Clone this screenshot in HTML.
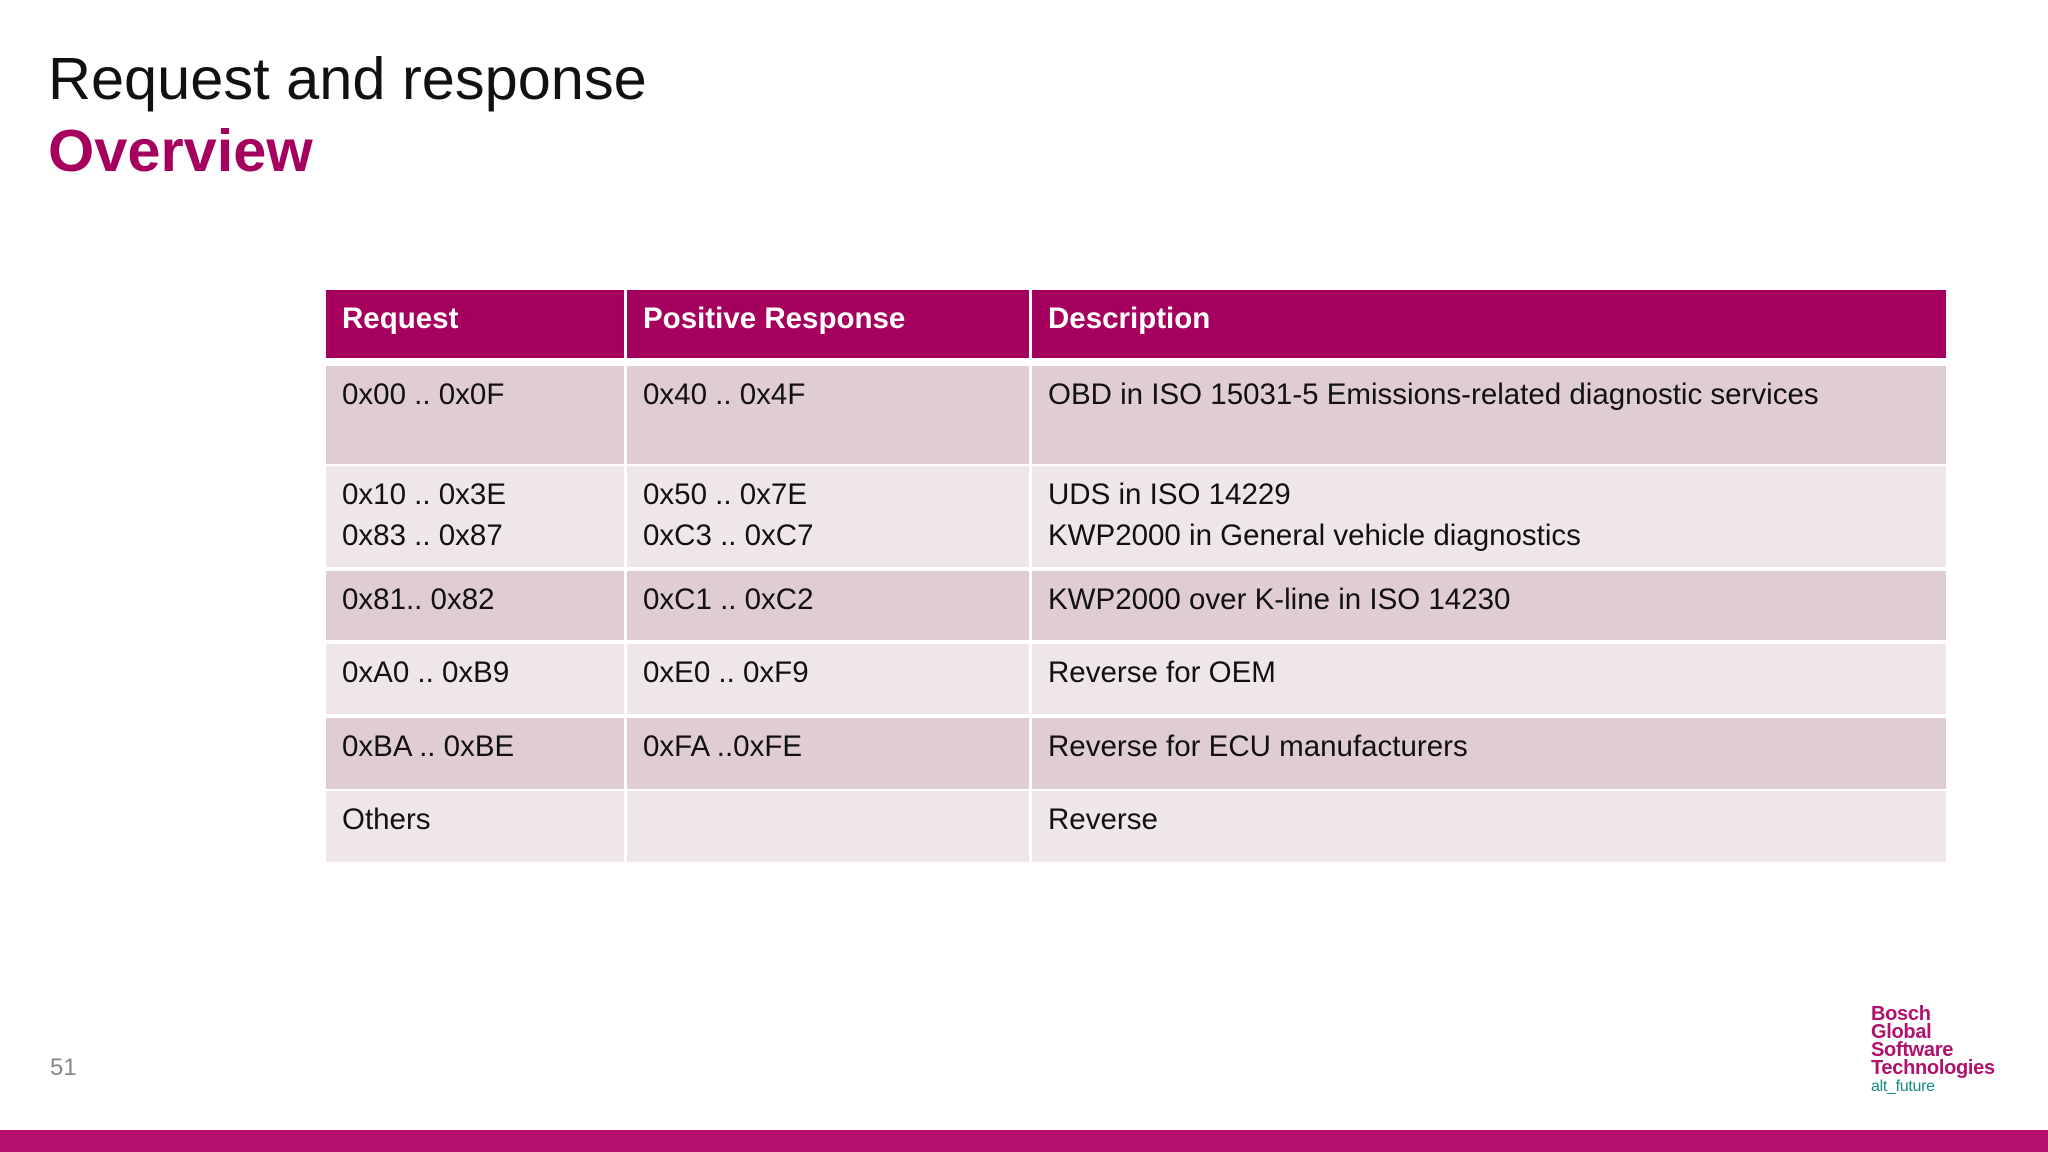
<!DOCTYPE html>
<html><head><meta charset="utf-8"><style>
body{margin:0;width:2048px;height:1152px;background:#fff;position:relative;overflow:hidden;font-family:"Liberation Sans",sans-serif}
.a{position:absolute}
.c{position:absolute;box-sizing:border-box;padding:9px 0 0 16px;font-size:29.5px;line-height:40.5px;color:#111}
.h{background:#a6005f;color:#fff;font-weight:bold;padding-top:9px}
.o{background:#e0ccd5}.e{background:#efe6ea}
</style></head><body>
<div class="a" style="left:48px;top:44px;font-size:59.5px;color:#111">Request and response</div>
<div class="a" style="left:48px;top:116px;font-size:59.5px;font-weight:bold;color:#a6005f">Overview</div>
<div>
<div class="c h" style="left:326px;top:290px;width:298px;height:68px">Request</div>
<div class="c h" style="left:627px;top:290px;width:402px;height:68px">Positive Response</div>
<div class="c h" style="left:1032px;top:290px;width:914px;height:68px">Description</div>

<div class="c o" style="left:326px;top:366px;width:298px;height:98px">0x00 .. 0x0F</div>
<div class="c o" style="left:627px;top:366px;width:402px;height:98px">0x40 .. 0x4F</div>
<div class="c o" style="left:1032px;top:366px;width:914px;height:98px">OBD in ISO 15031-5 Emissions-related diagnostic services</div>

<div class="c e" style="left:326px;top:466px;width:298px;height:101px">0x10 .. 0x3E<br>0x83 .. 0x87</div>
<div class="c e" style="left:627px;top:466px;width:402px;height:101px">0x50 .. 0x7E<br>0xC3 .. 0xC7</div>
<div class="c e" style="left:1032px;top:466px;width:914px;height:101px">UDS in ISO 14229<br>KWP2000 in General vehicle diagnostics</div>

<div class="c o" style="left:326px;top:571px;width:298px;height:69px">0x81.. 0x82</div>
<div class="c o" style="left:627px;top:571px;width:402px;height:69px">0xC1 .. 0xC2</div>
<div class="c o" style="left:1032px;top:571px;width:914px;height:69px">KWP2000 over K-line in ISO 14230</div>

<div class="c e" style="left:326px;top:644px;width:298px;height:70px">0xA0 .. 0xB9</div>
<div class="c e" style="left:627px;top:644px;width:402px;height:70px">0xE0 .. 0xF9</div>
<div class="c e" style="left:1032px;top:644px;width:914px;height:70px">Reverse for OEM</div>

<div class="c o" style="left:326px;top:718px;width:298px;height:71px">0xBA .. 0xBE</div>
<div class="c o" style="left:627px;top:718px;width:402px;height:71px">0xFA ..0xFE</div>
<div class="c o" style="left:1032px;top:718px;width:914px;height:71px">Reverse for ECU manufacturers</div>

<div class="c e" style="left:326px;top:791px;width:298px;height:71px">Others</div>
<div class="c e" style="left:627px;top:791px;width:402px;height:71px"></div>
<div class="c e" style="left:1032px;top:791px;width:914px;height:71px">Reverse</div>
</div>
<div class="a" style="left:50px;top:1054px;font-size:24px;color:#888">51</div>
<div class="a" style="left:1871px;top:1005px;font-size:20px;line-height:18px;font-weight:bold;color:#b0106e;letter-spacing:-0.3px">Bosch<br>Global<br>Software<br>Technologies<div style="font-weight:normal;color:#168a84;font-size:16px;margin-top:1px">alt_future</div></div>
<div class="a" style="left:0;top:1130px;width:2048px;height:22px;background:#b8106f"></div>
</body></html>
